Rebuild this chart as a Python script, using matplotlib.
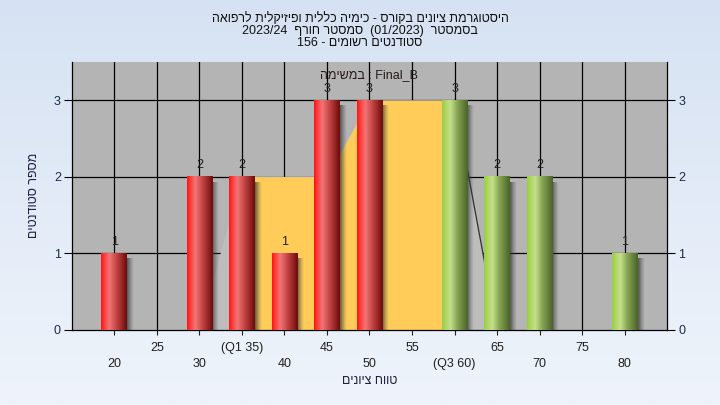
import re
import numpy as np
import matplotlib
matplotlib.use("Agg")
import matplotlib.pyplot as plt
from matplotlib.colors import LinearSegmentedColormap
from matplotlib.patches import Polygon

# ---------------- data ----------------
grades = [20, 30, 35, 40, 45, 50, 60, 65, 70, 80]
counts = [1, 2, 2, 1, 3, 3, 3, 2, 2, 1]
upper_group = [False, False, False, False, False, False, True, True, True, True]
q1_grade = 35
q3_grade = 60
area_x = [30, 35, 45, 50, 60, 65]
area_y = [0, 2, 2, 3, 3, 0]
major_ticks = [20, 30, 40, 50, 60, 70, 80]
major_labels = ["20", "30", "40", "50", "(Q3 60)", "70", "80"]
minor_ticks = [25, 35, 45, 55, 65, 75]
minor_labels = ["25", "(Q1 35)", "45", "55", "65", "75"]
y_ticks = [0, 1, 2, 3]
title_lines = [
    "היסטוגרמת ציונים בקורס - כימיה כללית ופיזיקלית לרפואה",
    "בסמסטר  (01/2023)  סמסטר חורף  2023/24",
    "סטודנטים רשומים - 156",
]
legend_text = "Final_B : במשימה"
x_label = "טווח ציונים"
y_label = "מספר סטודנטים"

# ---------------- bidi helper (RTL paragraph -> visual order) ----------------
MIRROR = str.maketrans("()[]", ")(][")


def visual(s):
    tokens = re.findall(r"[A-Za-z0-9][A-Za-z0-9_/.]*[A-Za-z0-9]|[A-Za-z0-9]|[^A-Za-z0-9]+", s)
    out = []
    for t in reversed(tokens):
        if t[0].isascii() and t[0].isalnum():
            out.append(t)
        else:
            out.append(t[::-1].translate(MIRROR))
    return "".join(out)


plt.rcParams["font.family"] = ["Liberation Sans", "DejaVu Sans"]
plt.rcParams["font.size"] = 8.5

W, H = 720, 405
fig = plt.figure(figsize=(W / 100, H / 100), dpi=100)

# background gradient
bg = fig.add_axes([0, 0, 1, 1], zorder=-10)
top_c = np.array([214, 226, 243]) / 255
bot_c = np.array([239, 244, 251]) / 255
t = np.linspace(0, 1, 256)[:, None]
grad = top_c[None, :] * (1 - t) + bot_c[None, :] * t
bg.imshow(grad[:, None, :], aspect="auto", extent=[0, 1, 0, 1])
bg.set_axis_off()

left, right, top, bottom = 71.7, 667.3, 62, 330
ax = fig.add_axes([left / W, 1 - bottom / H, (right - left) / W, (bottom - top) / H])
ax.set_facecolor("#b4b4b4")
xmin, xmax, ymin, ymax = 15, 85, 0, 3.5

# grid
ax.set_axisbelow(True)
for gx in major_ticks + minor_ticks:
    ax.axvline(gx, color="black", lw=0.9, zorder=0.5)
for gy in y_ticks[1:]:
    ax.axhline(gy, color="black", lw=0.9, zorder=0.5)

# area polygon (light), yellow IQR fill and outline
ax.add_patch(Polygon(list(zip(area_x, area_y)), closed=True, facecolor="#bdbdbd",
                     edgecolor="none", zorder=1))
xs = np.linspace(q1_grade, q3_grade, 200)
ys = np.interp(xs, area_x, area_y)
ax.fill_between(xs, 0, ys, color="#ffcc5a", lw=0, zorder=1.1)
ax.plot(area_x[-2:], area_y[-2:], color="#303030", lw=0.9, zorder=1.2)

# bars with cylindrical gradient and shadow
red_cmap = LinearSegmentedColormap.from_list(
    "red", [(0, "#ff1414"), (0.1, "#ff3535"), (0.32, "#f27575"), (0.6, "#c44444"), (1.0, "#6e0c0c")])
green_cmap = LinearSegmentedColormap.from_list(
    "green", [(0, "#98cc48"), (0.1, "#a8d458"), (0.32, "#c4e08c"), (0.6, "#86a452"), (1.0, "#4a642a")])
bw = 3.0
gx_arr = np.linspace(0, 1, 64)[None, :]
sh = np.zeros((1, 32, 4))
sh[..., :3] = 0.22
sh[0, :, 3] = np.linspace(0.8, 0.0, 32) ** 1.2

for g, c, up in zip(grades, counts, upper_group):
    cmap = green_cmap if up else red_cmap
    ax.imshow(sh, aspect="auto", extent=[g + bw / 2, g + bw / 2 + 0.8, 0, c - 0.07],
              zorder=2, interpolation="bilinear")
    ax.imshow(cmap(gx_arr), aspect="auto", extent=[g - bw / 2, g + bw / 2, 0, c],
              zorder=3, interpolation="bilinear")
    ax.annotate(str(c), (g, c), xytext=(0, 4), textcoords="offset points",
                ha="center", va="bottom", fontsize=9, color="#202020", zorder=4)

ax.set_xlim(xmin, xmax)
ax.set_ylim(ymin, ymax)

# ticks
ax.set_xticks(major_ticks)
ax.set_xticklabels(major_labels)
ax.set_xticks(minor_ticks, minor=True)
ax.set_xticklabels(minor_labels, minor=True)
ax.tick_params(axis="x", which="major", length=3.6, width=0.8, pad=16.5, labelsize=9, colors="#202020")
ax.tick_params(axis="x", which="minor", length=3.6, width=0.8, pad=5, labelsize=9, colors="#202020")
ax.set_yticks(y_ticks)
ax.tick_params(axis="y", length=5.8, width=0.8, pad=2, labelsize=9, labelcolor="#1a2a4a",
               right=True, labelright=True)
for s in ["left", "right", "bottom"]:
    ax.spines[s].set_color("black")
    ax.spines[s].set_linewidth(0.9)
ax.spines["top"].set_visible(False)

# texts
for i, line in enumerate(title_lines):
    fig.text(0.5, 1 - (18.5 + 12.5 * i) / H, visual(line), ha="center", va="center",
             fontsize=9, color="#101010")
fig.text(369 / W, 1 - 75.5 / H, visual(legend_text), ha="center", va="center",
         fontsize=9, color="#2a1a1a")
fig.text(369.5 / W, 1 - 381 / H, visual(x_label), ha="center", va="center",
         fontsize=9, color="#202040")
fig.text(34 / W, 1 - 195.5 / H, visual(y_label), ha="center", va="center",
         rotation=90, fontsize=9, color="#202040")

fig.savefig("out.png", dpi=100)
